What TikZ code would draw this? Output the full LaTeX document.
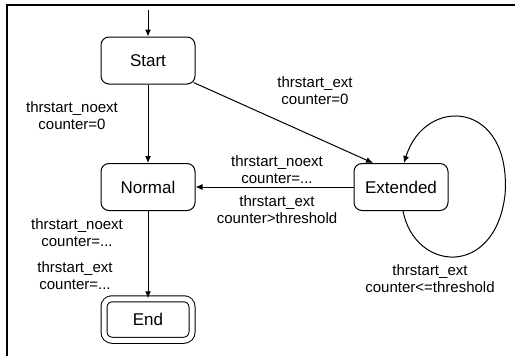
\documentclass[tikz,border=0pt]{standalone}
\usepackage{fontspec}
\setmainfont{Liberation Sans}
\usetikzlibrary{arrows.meta,calc}

\begin{document}
\begin{tikzpicture}[x=1pt,y=-1pt,
  state/.style={draw, rounded corners=8pt, minimum width=94pt, minimum height=47pt,
    inner sep=0pt, font=\fontsize{17}{20}\selectfont, line width=1pt},
  finalstate/.style={state, double, double distance=5pt, minimum width=88pt,
    minimum height=41.5pt, line width=1pt},
  lbl/.style={align=center, font=\fontsize{15}{17}\selectfont, inner sep=0pt},
  trans/.style={draw, line width=1pt, -{Latex[length=7pt,width=6pt]}}
]
\useasboundingbox (0,0) rectangle (515,356);

% frame lines
\coordinate (fa) at (7,356);
\coordinate (fb) at (7,5);
\coordinate (fc) at (515,5);
\draw[line width=1.2pt] (fa) -- (fb) -- (fc);

% states
\node[state] (start) at (148,60.5) {Start};
\node[state] (normal) at (148,187) {Normal};
\node[state] (ext) at (401,187) {Extended};
\node[finalstate] (end) at (148,319.5) {End};

% initial transition
\coordinate (init) at (148,10);
\draw[trans] (init) -- (start);

% transitions
\draw[trans] (start) -- (normal);
\draw[trans] ($(start.south east)+(-2,-2)$) -- ($(ext.north)+(-28,0)$);
\draw[trans] (ext) -- (normal);
\draw[trans] (normal) -- (end);
\draw[trans] ($(ext.south)+(2,0)$) .. controls (415,272) and (495,278) .. (505,195)
  .. controls (512,100) and (425,95) .. ($(ext.north)+(3,0)$);

% labels
\node[lbl] (l1) at (72,116) {thrstart\_noext\\counter=0};
\node[lbl] (l2) at (315,91) {thrstart\_ext\\counter=0};
\node[lbl] (l3) at (277,170) {thrstart\_noext\\counter=...};
\node[lbl] (l4) at (277,210) {thrstart\_ext\\counter>threshold};
\node[lbl] (l5) at (77,233) {thrstart\_noext\\counter=...};
\node[lbl] (l6) at (75,276) {thrstart\_ext\\counter=...};
\node[lbl] (l7) at (430,279) {thrstart\_ext\\counter<=threshold};
\end{tikzpicture}
\end{document}
